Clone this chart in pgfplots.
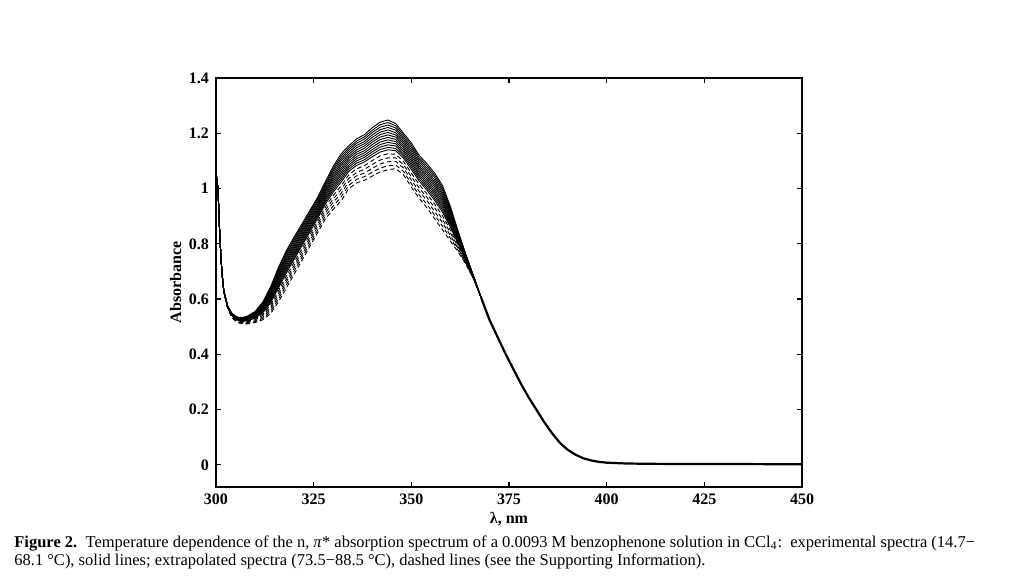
\documentclass[border=0pt]{standalone}
\usepackage{pgfplots}
\pgfplotsset{compat=1.18}
\usepackage{pgfplotstable}
\usepackage{fontspec}
\setmainfont{Liberation Serif}

% spectra 300-368 nm: c0-c12 solid (14.7-68.1 C), c13-c17 dashed (73.5-88.5 C)
\pgfplotstableread{
x c0 c1 c2 c3 c4 c5 c6 c7 c8 c9 c10 c11 c12 c13 c14 c15 c16 c17
300 1.06 1.06 1.06 1.06 1.06 1.06 1.06 1.06 1.06 1.06 1.06 1.06 1.06 1.06 1.06 1.06 1.06 1.06
300.5 1.00 1.00 1.00 1.00 1.00 1.00 1.00 1.00 1.00 1.00 1.00 1.00 1.00 1.00 1.00 1.00 1.00 1.00
301 0.82 0.82 0.82 0.82 0.82 0.82 0.82 0.82 0.82 0.82 0.82 0.82 0.82 0.82 0.82 0.82 0.82 0.82
301.5 0.70 0.70 0.70 0.70 0.70 0.70 0.70 0.70 0.70 0.70 0.70 0.70 0.70 0.70 0.70 0.70 0.70 0.70
302 .630 .630 .630 .629 .629 .629 .629 .628 .628 .628 .628 .627 .627 .627 .626 .626 .625 .625
303 .575 .575 .574 .574 .573 .573 .572 .572 .571 .571 .570 .570 .569 .568 .567 .567 .566 .565
304 .550 .549 .549 .548 .547 .546 .546 .545 .544 .543 .543 .542 .541 .540 .539 .537 .536 .535
305 .538 .537 .536 .535 .534 .534 .533 .532 .531 .530 .529 .528 .527 .526 .524 .523 .521 .520
306 .533 .532 .531 .530 .529 .528 .527 .526 .525 .524 .523 .522 .521 .519 .518 .516 .515 .513
307 .534 .533 .532 .530 .529 .528 .527 .526 .524 .523 .522 .521 .520 .518 .516 .514 .512 .510
308 .538 .537 .535 .534 .532 .531 .530 .528 .527 .525 .524 .523 .521 .519 .517 .515 .512 .510
310 .555 .553 .551 .549 .547 .545 .543 .541 .539 .537 .535 .533 .531 .528 .525 .521 .518 .515
312 .590 .587 .584 .580 .577 .574 .571 .567 .564 .561 .558 .554 .551 .546 .541 .535 .530 .525
314 .645 .640 .635 .630 .626 .621 .616 .611 .606 .601 .597 .592 .587 .579 .571 .564 .556 .548
316 .715 .709 .703 .696 .690 .684 .678 .671 .665 .659 .653 .646 .640 .630 .620 .610 .600 .590
318 .775 .768 .762 .755 .748 .741 .735 .728 .721 .714 .708 .701 .694 .683 .672 .662 .651 .640
320 .825 .818 .812 .805 .798 .791 .785 .778 .771 .764 .758 .751 .744 .733 .722 .712 .701 .690
322 .872 .865 .859 .852 .846 .839 .832 .826 .819 .813 .806 .799 .793 .782 .772 .761 .751 .740
324 .920 .914 .907 .901 .894 .888 .881 .875 .868 .862 .855 .849 .842 .832 .821 .811 .800 .790
326 .968 .962 .955 .949 .942 .936 .930 .923 .917 .910 .904 .898 .891 .881 .871 .861 .850 .840
328 1.025 1.018 1.012 1.005 .998 .991 .985 .978 .971 .964 .958 .951 .944 .933 .922 .912 .901 .890
330 1.080 1.072 1.065 1.057 1.049 1.041 1.034 1.026 1.018 1.010 1.003 .995 .987 .975 .962 .950 .937 .925
332 1.125 1.117 1.108 1.100 1.091 1.083 1.074 1.066 1.057 1.049 1.040 1.032 1.023 1.009 .996 .982 .969 .955
334 1.155 1.147 1.140 1.132 1.124 1.116 1.109 1.101 1.093 1.085 1.078 1.070 1.062 1.050 1.037 1.025 1.012 1.000
336 1.180 1.172 1.164 1.156 1.148 1.140 1.132 1.124 1.116 1.108 1.100 1.092 1.084 1.071 1.058 1.046 1.033 1.020
338 1.195 1.187 1.179 1.170 1.162 1.154 1.146 1.137 1.129 1.121 1.113 1.104 1.096 1.083 1.070 1.056 1.043 1.030
340 1.220 1.211 1.203 1.194 1.185 1.176 1.168 1.159 1.150 1.141 1.133 1.124 1.115 1.101 1.087 1.073 1.059 1.045
342 1.240 1.231 1.222 1.213 1.204 1.195 1.186 1.177 1.168 1.159 1.150 1.141 1.132 1.118 1.103 1.089 1.074 1.060
344 1.248 1.239 1.230 1.221 1.212 1.203 1.194 1.185 1.176 1.167 1.158 1.149 1.140 1.126 1.111 1.097 1.082 1.068
346 1.235 1.227 1.219 1.211 1.202 1.194 1.186 1.178 1.170 1.162 1.154 1.145 1.137 1.124 1.111 1.098 1.085 1.072
348 1.200 1.193 1.185 1.178 1.170 1.163 1.155 1.148 1.140 1.133 1.125 1.118 1.110 1.098 1.086 1.074 1.062 1.050
350 1.165 1.157 1.149 1.141 1.133 1.125 1.117 1.109 1.101 1.093 1.085 1.077 1.069 1.056 1.043 1.031 1.018 1.005
352 1.120 1.112 1.105 1.097 1.089 1.081 1.074 1.066 1.058 1.050 1.043 1.035 1.027 1.015 1.002 .990 .977 .965
354 1.090 1.082 1.074 1.066 1.058 1.050 1.042 1.034 1.026 1.018 1.010 1.002 .994 .981 .968 .956 .943 .930
356 1.055 1.047 1.039 1.030 1.022 1.014 1.006 .997 .989 .981 .973 .964 .956 .943 .930 .916 .903 .890
358 1.010 1.002 .994 .986 .978 .970 .962 .954 .946 .938 .930 .922 .914 .901 .888 .876 .863 .850
360 .935 .929 .923 .916 .910 .904 .898 .891 .885 .879 .873 .866 .860 .850 .840 .830 .820 .810
362 .845 .841 .838 .834 .830 .826 .823 .819 .815 .811 .808 .804 .800 .794 .788 .782 .776 .770
364 .760 .758 .757 .755 .753 .751 .750 .748 .746 .744 .743 .741 .739 .736 .733 .731 .728 .725
366 .680 .680 .679 .679 .678 .678 .677 .677 .676 .676 .675 .675 .674 .673 .672 .672 .671 .670
368 .600 .600 .600 .600 .600 .600 .600 .600 .600 .600 .600 .600 .600 .600 .600 .600 .600 .600
}\spec

% common tail, where all spectra coincide
\pgfplotstableread{
x y
368 .600
370 .525
372 .465
374 .405
376 .350
378 .295
380 .245
382 .200
384 .155
386 .115
388 .080
390 .055
392 .037
394 .024
396 .016
398 .011
400 .008
405 .005
410 .004
420 .003
435 .003
450 .002
}\tail

\begin{document}
\begin{tikzpicture}
\useasboundingbox (0,0) rectangle (512pt,288pt);
\begin{axis}[
    at={(108pt,44.5pt)}, anchor=south west,
    scale only axis, width=293pt, height=204.5pt,
    xmin=300, xmax=450, ymin=-0.08, ymax=1.4,
    xtick={300,325,...,450},
    ytick={0,0.2,0.4,0.6,0.8,1,1.2,1.4},
    /pgf/number format/assume math mode=true,
    tick label style={font=\fontsize{8}{9}\selectfont\bfseries},
    label style={font=\fontsize{8}{9}\selectfont\bfseries},
    xlabel={λ, nm},
    ylabel={Absorbance},
    xlabel style={yshift=3pt},
    ylabel style={yshift=-3pt},
    axis line style={line width=0.8pt},
    major tick length=2.5pt,
    tick style={black, line width=0.6pt},
    every axis plot/.append style={black, line width=0.45pt},
]
\pgfplotsinvokeforeach{0,...,12}{
  \addplot[solid] table[x=x, y=c#1] {\spec};
}
\pgfplotsinvokeforeach{13,...,17}{
  \addplot[dash pattern=on 2.2pt off 1.5pt] table[x=x, y=c#1] {\spec};
}
\addplot[line width=1.1pt] table[x=x, y=y] {\tail};
\end{axis}
\node[anchor=base west, inner sep=0pt, font=\fontsize{8.25}{9}\selectfont] at (7pt,14.3pt)
  {\textbf{Figure 2.}\ \ Temperature dependence of the n, \textit{π}* absorption spectrum of a 0.0093 M benzophenone solution in CCl\textsubscript{4}:\ \ experimental spectra (14.7−};
\node[anchor=base west, inner sep=0pt, font=\fontsize{8.25}{9}\selectfont] at (7pt,5.3pt)
  {68.1 °C), solid lines; extrapolated spectra (73.5−88.5 °C), dashed lines (see the Supporting Information).};
\end{tikzpicture}
\end{document}
